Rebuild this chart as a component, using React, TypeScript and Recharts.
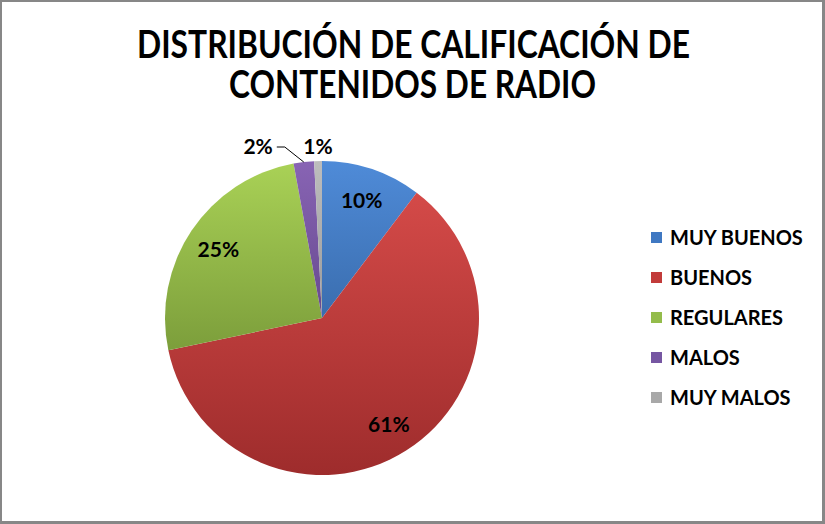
import React from "react";
import { PieChart, Pie, Cell, Legend } from "recharts";

const categories = ["MUY BUENOS", "BUENOS", "REGULARES", "MALOS", "MUY MALOS"];
const values = [10.3, 61.4, 25.4, 2.1, 0.8];
const titleLines = ["DISTRIBUCIÓN DE CALIFICACIÓN DE", "CONTENIDOS DE RADIO"];
const colorsTop = ["#4F8BD8", "#D44A48", "#A9D156", "#8864B4", "#BDBDBD"];
const colorsBottom = ["#3A6DAE", "#9E2C2C", "#7C9E3B", "#67498F", "#9A9A9A"];
const legendColors = ["#3F78C2", "#C23B3A", "#94BC4B", "#7656A2", "#A8A8A8"];

const data = categories.map((name, i) => ({ name, value: values[i] }));
const total = values.reduce((a, b) => a + b, 0);

const FONT = "Lato, 'Liberation Sans', Arial, sans-serif";
const RAD = Math.PI / 180;

const renderLabel = (props: any) => {
  const { cx, cy, midAngle, outerRadius, index, value } = props;
  const pct = Math.round((value / total) * 100) + "%";
  const frac = value / total;
  if (frac >= 0.05) {
    const r = outerRadius * 0.795;
    const x = cx + r * Math.cos(-midAngle * RAD);
    const y = cy + r * Math.sin(-midAngle * RAD);
    return (
      <text x={x} y={y} textAnchor="middle" dominantBaseline="central" fontFamily={FONT} fontWeight="bold" fontSize={21} fill="#000">
        {pct}
      </text>
    );
  }
  const ex = cx + outerRadius * Math.cos(-midAngle * RAD);
  const ey = cy + outerRadius * Math.sin(-midAngle * RAD);
  const ty = cy - outerRadius - 16;
  if (index === data.length - 1) {
    return (
      <text x={ex} y={ty} textAnchor="middle" dominantBaseline="central" fontFamily={FONT} fontWeight="bold" fontSize={21} fill="#000">
        {pct}
      </text>
    );
  }
  const elbowX = ex - 19;
  const elbowY = ty + 2;
  const endX = ex - 27;
  return (
    <g>
      <polyline points={`${ex},${ey} ${elbowX},${elbowY} ${endX},${elbowY}`} fill="none" stroke="#000" strokeWidth={1} />
      <text x={endX - 4} y={ty} textAnchor="end" dominantBaseline="central" fontFamily={FONT} fontWeight="bold" fontSize={21} fill="#000">
        {pct}
      </text>
    </g>
  );
};

const LegendContent = () => (
  <div style={{ display: "flex", flexDirection: "column" }}>
    {categories.map((c, i) => (
      <div key={c} style={{ display: "flex", alignItems: "center", height: 40 }}>
        <span style={{ display: "inline-block", width: 11, height: 11, background: legendColors[i], marginRight: 8 }} />
        <span style={{ fontFamily: FONT, fontWeight: "bold", fontSize: 20, color: "#000", whiteSpace: "nowrap" }}>{c}</span>
      </div>
    ))}
  </div>
);

export default function App() {
  return (
    <div style={{ position: "absolute", left: 0, top: 0, width: 825, height: 524, background: "#fff" }}>
      <div style={{ position: "absolute", left: 0, top: 0, width: 825, height: 524, boxSizing: "border-box", borderStyle: "solid", borderColor: "#878787", borderWidth: "2px 3px 3px 2px", pointerEvents: "none", zIndex: 2 }} />
      <svg width={825} height={130} style={{ position: "absolute", left: 0, top: 0 }}>
        <text textAnchor="middle" fontFamily={FONT} fontWeight="bold" fontSize={39} fill="#000">
          <tspan x={413.5} y={58} textLength={553} lengthAdjust="spacingAndGlyphs">{titleLines[0]}</tspan>
          <tspan x={412.5} y={98} textLength={367} lengthAdjust="spacingAndGlyphs">{titleLines[1]}</tspan>
        </text>
      </svg>
      <div style={{ position: "absolute", left: 0, top: 0 }}>
        <PieChart width={825} height={524} margin={{ top: 0, right: 0, bottom: 0, left: 0 }}>
          <defs>
            {categories.map((c, i) => (
              <linearGradient key={c} id={`grad${i}`} x1="0" y1="0" x2="0" y2="1">
                <stop offset="0%" stopColor={colorsTop[i]} />
                <stop offset="100%" stopColor={colorsBottom[i]} />
              </linearGradient>
            ))}
          </defs>
          <Pie
            data={data}
            dataKey="value"
            nameKey="name"
            cx={322}
            cy={318}
            outerRadius={157}
            startAngle={90}
            endAngle={-270}
            stroke="none"
            label={renderLabel}
            labelLine={false}
            isAnimationActive={false}
          >
            {data.map((d, i) => (
              <Cell key={d.name} fill={`url(#grad${i})`} />
            ))}
          </Pie>
          <Legend
            layout="vertical"
            align="right"
            verticalAlign="top"
            content={<LegendContent />}
            wrapperStyle={{ position: "absolute", left: 651, top: 217, width: 170 }}
          />
        </PieChart>
      </div>
    </div>
  );
}
